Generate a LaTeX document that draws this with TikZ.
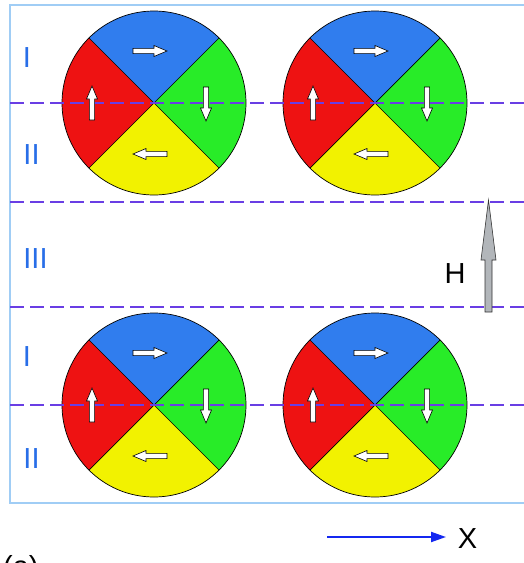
\documentclass[tikz,border=0pt]{standalone}
\usepackage{fontspec}
\setmainfont{Liberation Sans}
\usetikzlibrary{arrows.meta}
\definecolor{secblue}{RGB}{48,125,238}
\definecolor{secgreen}{RGB}{40,236,40}
\definecolor{secred}{RGB}{238,18,18}
\definecolor{secyellow}{RGB}{242,242,0}
\definecolor{dashcol}{RGB}{105,62,228}
\definecolor{framecol}{RGB}{160,205,245}
\definecolor{labcol}{RGB}{40,110,232}
\definecolor{xcol}{RGB}{20,40,240}
\definecolor{hgray}{RGB}{178,182,186}
\tikzset{
  regionlab/.style={text=labcol, font=\fontsize{29}{29}\selectfont, anchor=base, inner sep=0pt},
  blacklab/.style={text=black, font=\fontsize{29}{29}\selectfont, anchor=base, inner sep=0pt},
  sectorline/.style={draw=black, line width=0.7pt},
  divline/.style={draw=dashcol, line width=2pt, dash pattern=on 14pt off 6pt},
  barrow/.pic={\draw[fill=white, draw=black, line width=0.6pt]
     (-17,-2.6) -- (4,-2.6) -- (4,-5.5) -- (17,0) -- (4,5.5) -- (4,2.6) -- (-17,2.6) -- cycle;}
}
\newcommand{\magnetdisc}[2]{%
  \begin{scope}[shift={(#1,#2)}]
    \fill[secblue]   (0,0) -- (225:92) arc (225:315:92) -- cycle;
    \fill[secgreen]  (0,0) -- (-45:92) arc (-45:45:92) -- cycle;
    \fill[secyellow] (0,0) -- (45:92) arc (45:135:92) -- cycle;
    \fill[secred]    (0,0) -- (135:92) arc (135:225:92) -- cycle;
    \draw[sectorline] (45:92) -- (225:92) (135:92) -- (315:92);
    \draw[sectorline] (0,0) circle (92);
  \end{scope}}
\newcommand{\magnetarrows}[2]{%
  \begin{scope}[shift={(#1,#2)}]
    \pic at (-4,-52) {barrow};
    \pic[rotate=-90] at (52,1) {barrow};
    \pic[rotate=180] at (-4,51) {barrow};
    \pic[rotate=90] at (-62,0) {barrow};
  \end{scope}}
\begin{document}
\begin{tikzpicture}[x=1pt,y=-1pt]
\useasboundingbox (0,0) rectangle (523,563);
\fill[white] (0,0) rectangle (523,563);
% frame
\draw[draw=framecol, line width=1.5pt] (10,5) rectangle (540,503);
% discs
\magnetdisc{154}{103}
\magnetdisc{375}{103}
\magnetdisc{154}{405}
\magnetdisc{375}{405}
% dashed dividers
\foreach \yy/\nm in {103/a,202/b,307/c,405/d}{
  \coordinate (dl\nm) at (10,\yy);
  \coordinate (dr\nm) at (530,\yy);
  \draw[divline] (dl\nm) -- (dr\nm);
}
% small arrows
\magnetarrows{154}{103}
\magnetarrows{375}{103}
\magnetarrows{154}{405}
\magnetarrows{375}{405}
% region labels
\node[regionlab] (l1) at (27,67) {I};
\node[regionlab] (l2) at (31.5,164) {II};
\node[regionlab] (l3) at (35.5,268) {III};
\node[regionlab] (l4) at (27,366) {I};
\node[regionlab] (l5) at (31.5,468) {II};
% H arrow
\draw[fill=hgray, draw=black!80, line width=0.6pt]
  (485,312) -- (485,260) -- (481,260) -- (488.5,200) -- (496,260) -- (492,260) -- (492,312) -- cycle;
\node[blacklab] (hl) at (455,283) {H};
% X axis arrow
\coordinate (xs) at (327,537);
\coordinate (xe) at (446,537);
\draw[xcol, line width=2pt, -{Triangle[length=15pt,width=10pt]}] (xs) -- (xe);
\node[blacklab] (xl) at (467.5,548) {X};
\node[blacklab, anchor=base west] (al) at (3,576) {(a)};
\end{tikzpicture}
\end{document}
